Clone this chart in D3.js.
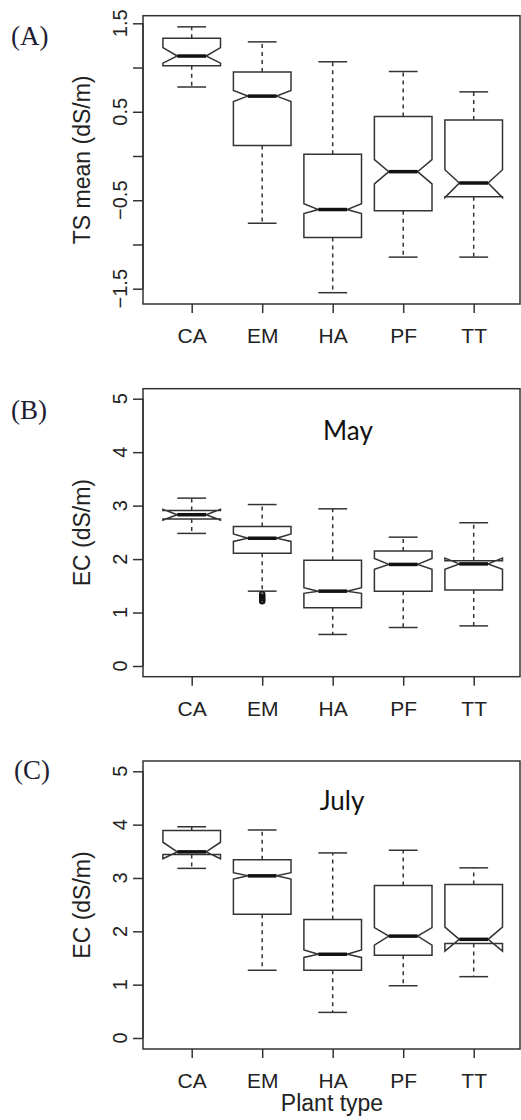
<!DOCTYPE html>
<html>
<head>
<meta charset="utf-8">
<script src="https://cdn.jsdelivr.net/npm/d3@7"></script>
<style>
  body { margin: 0; background: #fff; }
  svg { display: block; }
</style>
</head>
<body>
<div id="chart"></div>
<script>
var categories = ['CA', 'EM', 'HA', 'PF', 'TT'];

// panel A: TS mean
var tsWhiskerLow  = [0.78, -0.76, -1.545, -1.143, -1.143];
var tsQ1          = [1.02, 0.12, -0.92, -0.62, -0.46];
var tsNotchLow    = [1.05, 0.616, -0.65, -0.316, -0.47];
var tsMedian      = [1.13, 0.677, -0.605, -0.177, -0.305];
var tsNotchHigh   = [1.225, 0.74, -0.54, -0.04, -0.155];
var tsQ3          = [1.33, 0.95, 0.02, 0.447, 0.406];
var tsWhiskerHigh = [1.46, 1.29, 1.065, 0.955, 0.725];
var tsTicks = [-1.5, -1, -0.5, 0, 0.5, 1, 1.5];
var tsTickLabels = [-1.5, -0.5, 0.5, 1.5];

// panel B: EC May
var mayWhiskerLow  = [2.48, 1.40, 0.59, 0.72, 0.75];
var mayQ1          = [2.75, 2.11, 1.09, 1.40, 1.42];
var mayNotchLow    = [2.73, 2.33, 1.36, 1.81, 1.81];
var mayMedian      = [2.83, 2.39, 1.40, 1.90, 1.91];
var mayNotchHigh   = [2.93, 2.47, 1.465, 2.01, 2.02];
var mayQ3          = [2.91, 2.61, 1.98, 2.15, 1.97];
var mayWhiskerHigh = [3.14, 3.02, 2.94, 2.41, 2.68];
var mayOutliers = [['EM', 1.34], ['EM', 1.30], ['EM', 1.27], ['EM', 1.24], ['EM', 1.21]];

// panel C: EC July
var julWhiskerLow  = [3.18, 1.27, 0.48, 0.98, 1.15];
var julQ1          = [3.44, 2.32, 1.27, 1.55, 1.77];
var julNotchLow    = [3.36, 2.98, 1.51, 1.74, 1.63];
var julMedian      = [3.49, 3.04, 1.57, 1.91, 1.85];
var julNotchHigh   = [3.67, 3.10, 1.65, 2.07, 2.08];
var julQ3          = [3.89, 3.34, 2.22, 2.86, 2.88];
var julWhiskerHigh = [3.96, 3.90, 3.47, 3.52, 3.19];

var ecTicks = [0, 1, 2, 3, 4, 5];

var width = 521, height = 1120;
var frameLeft = 143, frameRight = 520;
var halfBox = 28.8;
var ink = '#333';

var svg = d3.select('#chart').append('svg')
  .attr('width', width)
  .attr('height', height);

var x = d3.scalePoint()
  .domain(categories)
  .range([191.7, 473.7]);

function stats(wl, q1, nl, med, nh, q3, wh) {
  return categories.map(function(c, i) {
    return { cat: c, wl: wl[i], q1: q1[i], nl: nl[i], med: med[i], nh: nh[i], q3: q3[i], wh: wh[i] };
  });
}

var panels = [
  { label: '(A)', labelX: 11, labelY: 45, top: 15.7, bottom: 304,
    domain: [-1.5, 1.5], range: [288.7, 23.3], ticks: tsTicks, tickLabels: tsTickLabels,
    fmt: function(d) { return d3.format('.1f')(d).replace('-', '\u2212'); },
    ytitle: 'TS mean (dS/m)', title: null,
    data: stats(tsWhiskerLow, tsQ1, tsNotchLow, tsMedian, tsNotchHigh, tsQ3, tsWhiskerHigh), outliers: [] },
  { label: '(B)', labelX: 11, labelY: 419, top: 388.7, bottom: 676.7,
    domain: [0, 5], range: [666, 398.7], ticks: ecTicks, tickLabels: ecTicks,
    fmt: d3.format('d'),
    ytitle: 'EC (dS/m)', title: 'May', titleX: 348, titleY: 440,
    data: stats(mayWhiskerLow, mayQ1, mayNotchLow, mayMedian, mayNotchHigh, mayQ3, mayWhiskerHigh), outliers: mayOutliers },
  { label: '(C)', labelX: 14, labelY: 779, top: 761, bottom: 1049,
    domain: [0, 5], range: [1038, 771.3], ticks: ecTicks, tickLabels: ecTicks,
    fmt: d3.format('d'),
    ytitle: 'EC (dS/m)', title: 'July', titleX: 342, titleY: 810,
    data: stats(julWhiskerLow, julQ1, julNotchLow, julMedian, julNotchHigh, julQ3, julWhiskerHigh), outliers: [] }
];

panels.forEach(function(p) {
  var y = d3.scaleLinear().domain(p.domain).range(p.range);
  var g = svg.append('g');

  // frame
  g.append('rect')
    .attr('x', frameLeft).attr('y', p.top)
    .attr('width', frameRight - frameLeft).attr('height', p.bottom - p.top)
    .attr('fill', 'none').attr('stroke', ink).attr('stroke-width', 1.5);

  // y axis: ticks + rotated labels like R
  var yAxis = g.append('g').attr('transform', 'translate(' + frameLeft + ',0)')
    .call(d3.axisLeft(y).tickValues(p.ticks).tickSize(10).tickFormat(''));
  yAxis.select('.domain').attr('stroke', ink).attr('stroke-width', 1.5)
    .attr('d', 'M0,' + y(p.ticks[0]) + 'V' + y(p.ticks[p.ticks.length - 1]));
  yAxis.selectAll('.tick line').attr('stroke', ink).attr('stroke-width', 1.5);

  g.selectAll('.ylab')
    .data(p.tickLabels)
    .enter().append('text')
    .attr('transform', function(d) { return 'translate(127,' + y(d) + ') rotate(-90)'; })
    .attr('text-anchor', 'middle')
    .attr('font-family', 'Liberation Sans, Arial, sans-serif')
    .attr('font-size', 20)
    .attr('fill', '#222')
    .text(p.fmt);

  // x axis
  var xAxis = g.append('g').attr('transform', 'translate(0,' + p.bottom + ')')
    .call(d3.axisBottom(x).tickSize(9).tickPadding(15));
  xAxis.select('.domain').remove();
  xAxis.selectAll('.tick line').attr('stroke', ink).attr('stroke-width', 1.5);
  xAxis.selectAll('.tick text')
    .attr('font-family', 'Liberation Sans, Arial, sans-serif')
    .attr('font-size', 21)
    .attr('fill', '#222');

  // y title
  g.append('text')
    .attr('transform', 'translate(90,' + ((p.top + p.bottom) / 2) + ') rotate(-90)')
    .attr('text-anchor', 'middle')
    .attr('font-family', 'Liberation Sans, Arial, sans-serif')
    .attr('font-size', 23)
    .attr('fill', '#222')
    .text(p.ytitle);

  // panel label
  g.append('text')
    .attr('x', p.labelX).attr('y', p.labelY)
    .attr('font-family', 'Liberation Serif, Times New Roman, serif')
    .attr('font-size', 27)
    .attr('fill', '#1d1d33')
    .text(p.label);

  if (p.title) {
    g.append('text')
      .attr('x', p.titleX).attr('y', p.titleY)
      .attr('text-anchor', 'middle')
      .attr('font-family', 'Lato, Open Sans, sans-serif')
      .attr('font-size', 26)
      .attr('fill', '#111')
      .text(p.title);
  }

  var boxes = g.selectAll('.box')
    .data(p.data)
    .enter().append('g');

  // whiskers (dashed)
  boxes.append('line')
    .attr('x1', function(d) { return x(d.cat); }).attr('x2', function(d) { return x(d.cat); })
    .attr('y1', function(d) { return y(d.q3); }).attr('y2', function(d) { return y(d.wh); })
    .attr('stroke', ink).attr('stroke-width', 1.5).attr('stroke-dasharray', '4,4');
  boxes.append('line')
    .attr('x1', function(d) { return x(d.cat); }).attr('x2', function(d) { return x(d.cat); })
    .attr('y1', function(d) { return y(d.q1); }).attr('y2', function(d) { return y(d.wl); })
    .attr('stroke', ink).attr('stroke-width', 1.5).attr('stroke-dasharray', '4,4');

  // staples
  ['wh', 'wl'].forEach(function(k) {
    boxes.append('line')
      .attr('x1', function(d) { return x(d.cat) - halfBox / 2; })
      .attr('x2', function(d) { return x(d.cat) + halfBox / 2; })
      .attr('y1', function(d) { return y(d[k]); }).attr('y2', function(d) { return y(d[k]); })
      .attr('stroke', ink).attr('stroke-width', 1.5);
  });

  // notched box, same polygon as R's bxp
  boxes.append('path')
    .attr('d', function(d) {
      var cx = x(d.cat), w = halfBox;
      var pts = [
        [cx - w, y(d.q1)], [cx + w, y(d.q1)], [cx + w, y(d.nl)], [cx + w / 2, y(d.med)],
        [cx + w, y(d.nh)], [cx + w, y(d.q3)], [cx - w, y(d.q3)], [cx - w, y(d.nh)],
        [cx - w / 2, y(d.med)], [cx - w, y(d.nl)]
      ];
      return d3.line()(pts) + 'Z';
    })
    .attr('fill', 'none').attr('stroke', ink).attr('stroke-width', 1.5)
    .attr('stroke-linejoin', 'miter');

  // median
  boxes.append('line')
    .attr('x1', function(d) { return x(d.cat) - halfBox / 2; })
    .attr('x2', function(d) { return x(d.cat) + halfBox / 2; })
    .attr('y1', function(d) { return y(d.med); }).attr('y2', function(d) { return y(d.med); })
    .attr('stroke', '#111').attr('stroke-width', 3.5);

  // outliers
  g.selectAll('.outlier')
    .data(p.outliers)
    .enter().append('circle')
    .attr('cx', function(d) { return x(d[0]); })
    .attr('cy', function(d) { return y(d[1]); })
    .attr('r', 2.5)
    .attr('fill', 'none').attr('stroke', '#111').attr('stroke-width', 1.5);
});

svg.append('text')
  .attr('x', 332).attr('y', 1111)
  .attr('text-anchor', 'middle')
  .attr('font-family', 'Liberation Sans, Arial, sans-serif')
  .attr('font-size', 23)
  .attr('fill', '#222')
  .text('Plant type');
</script>
</body>
</html>
